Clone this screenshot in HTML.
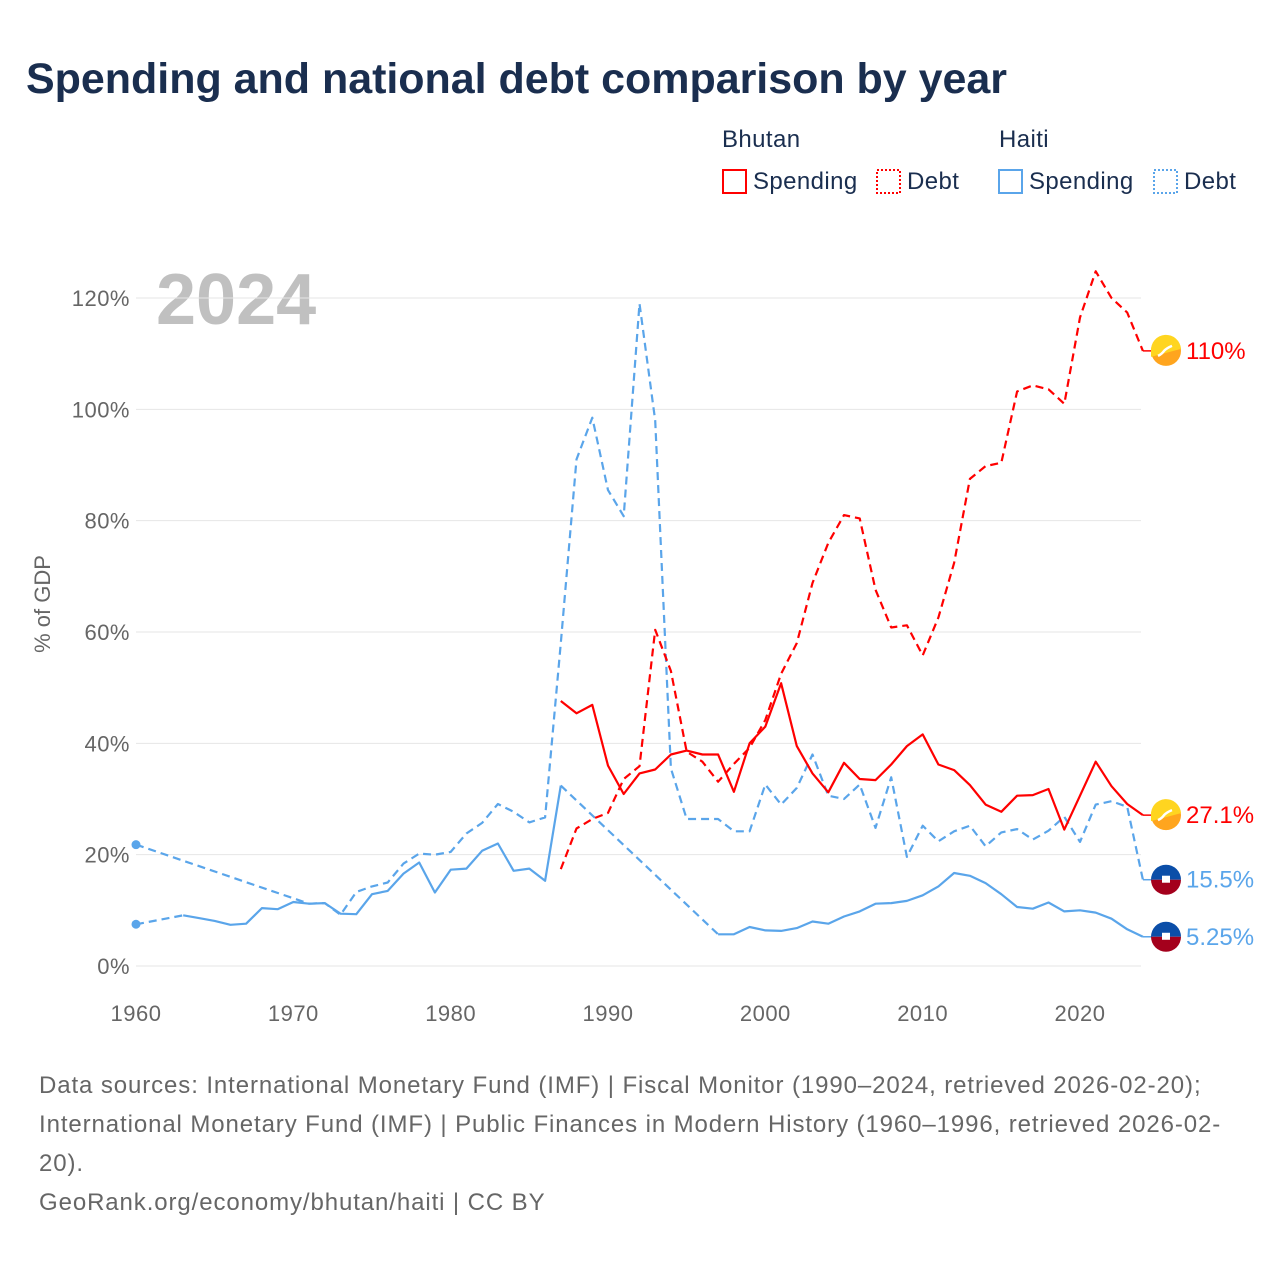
<!DOCTYPE html>
<html><head><meta charset="utf-8"><style>
body{margin:0;background:#fff;font-family:"Liberation Sans",sans-serif;}
svg text{font-family:"Liberation Sans",sans-serif;}
</style></head><body>
<svg id="c" width="1280" height="1280" xmlns="http://www.w3.org/2000/svg">
<text x="26" y="93" font-size="43" font-weight="bold" fill="#1a2e4f" textLength="981">Spending and national debt comparison by year</text>
<g font-size="24" fill="#1a2e4f" letter-spacing="0.4">
<text x="722" y="147" fill="#1a2e4f">Bhutan</text>
<text x="999" y="147" fill="#1a2e4f">Haiti</text>
<g><rect x="723" y="170" width="23" height="23" fill="none" stroke="#f00" stroke-width="2"/><text x="753" y="189" fill="#1a2e4f">Spending</text></g>
<g><rect x="877" y="170" width="23" height="23" fill="none" stroke="#f00" stroke-width="2" stroke-dasharray="2 2"/><text x="907" y="189" fill="#1a2e4f">Debt</text></g>
<g><rect x="999" y="170" width="23" height="23" fill="none" stroke="#5aa5ea" stroke-width="2"/><text x="1029" y="189" fill="#1a2e4f">Spending</text></g>
<g><rect x="1154" y="170" width="23" height="23" fill="none" stroke="#5aa5ea" stroke-width="2" stroke-dasharray="2 2"/><text x="1184" y="189" fill="#1a2e4f">Debt</text></g>
</g>
<text x="156" y="324" font-size="72" font-weight="bold" fill="#c0c0c0">2024</text>
<text transform="translate(50,604) rotate(-90)" text-anchor="middle" font-size="22" fill="#666">% of GDP</text>
<g id="grid"></g><g id="series"></g><g id="ends"></g>
<g font-size="24" fill="#666" letter-spacing="0.9">
<text x="39" y="1093" fill="#666">Data sources: International Monetary Fund (IMF) | Fiscal Monitor (1990–2024, retrieved 2026-02-20);</text>
<text x="39" y="1132" fill="#666">International Monetary Fund (IMF) | Public Finances in Modern History (1960–1996, retrieved 2026-02-</text>
<text x="39" y="1171" fill="#666">20).</text>
<text x="39" y="1210" fill="#666">GeoRank.org/economy/bhutan/haiti | CC BY</text>
</g>
</svg>
<script>
const yTicks=[0,20,40,60,80,100,120];
const xTicks=[1960,1970,1980,1990,2000,2010,2020];
const haitiSpendYears=[1960,1963,1964,1965,1966,1967,1968,1969,1970,1971,1972,1973,1974,1975,1976,1977,1978,1979,1980,1981,1982,1983,1984,1985,1986,1987,1997,1998,1999,2000,2001,2002,2003,2004,2005,2006,2007,2008,2009,2010,2011,2012,2013,2014,2015,2016,2017,2018,2019,2020,2021,2022,2023,2024];
const haitiSpend=[7.5,9.1,8.6,8.1,7.4,7.6,10.4,10.2,11.5,11.2,11.3,9.4,9.3,12.9,13.5,16.6,18.6,13.2,17.3,17.5,20.7,22,17.1,17.5,15.3,32.4,5.7,5.7,7.0,6.4,6.3,6.8,8.0,7.6,8.9,9.8,11.2,11.3,11.7,12.7,14.3,16.7,16.2,14.9,12.9,10.6,10.3,11.4,9.8,10.0,9.6,8.5,6.6,5.25];
const haitiDebtYears=[1960,1971,1972,1973,1974,1975,1976,1977,1978,1979,1980,1981,1982,1983,1984,1985,1986,1987,1988,1989,1990,1991,1992,1993,1994,1995,1996,1997,1998,1999,2000,2001,2002,2003,2004,2005,2006,2007,2008,2009,2010,2011,2012,2013,2014,2015,2016,2017,2018,2019,2020,2021,2022,2023,2024];
const haitiDebt=[21.8,11.2,11.3,9.2,13.3,14.3,15,18.4,20.2,20,20.5,23.8,25.7,29.1,27.7,25.8,26.7,58,91,98.5,85.5,80.8,119,98,35.5,26.4,26.4,26.4,24.2,24.2,32.6,29,32,38,30.6,30,32.6,24.8,33.9,19.6,25.2,22.4,24.2,25.2,21.5,24,24.6,22.7,24.3,26.8,22.3,29,29.6,28.6,15.5];
const bhutanYears=[1987,1988,1989,1990,1991,1992,1993,1994,1995,1996,1997,1998,1999,2000,2001,2002,2003,2004,2005,2006,2007,2008,2009,2010,2011,2012,2013,2014,2015,2016,2017,2018,2019,2020,2021,2022,2023,2024];
const bhutanSpend=[47.6,45.4,46.9,36,30.9,34.6,35.3,38,38.7,38,38,31.3,40,43,50.8,39.5,34.6,31.2,36.5,33.6,33.4,36.2,39.5,41.6,36.2,35.2,32.5,29,27.7,30.6,30.7,31.8,24.5,30.6,36.7,32.3,29.1,27.1];
const bhutanDebt=[17.4,24.7,26.4,27.5,33.6,35.9,60.4,53,38.5,36.7,33.1,36.3,39.2,44.2,52.5,58,68.8,76,81,80.4,67.6,60.8,61.2,55.8,62.6,72.4,87.5,89.8,90.4,103.2,104.3,103.6,101,116.5,124.8,120,117.4,110.5];
const endLabels=["110%","27.1%","15.5%","5.25%"];

const NS="http://www.w3.org/2000/svg";
const X=y=>136+(y-1960)*(1080-136)/60;
const Y=v=>966-v*(966-298)/120;
function mk(t,a,p){const e=document.createElementNS(NS,t);for(const k in a)e.setAttribute(k,a[k]);p.appendChild(e);return e;}
const grid=document.getElementById('grid');
yTicks.forEach(t=>{
 const l=mk('line',{x1:136,x2:1141,y1:Y(t),y2:Y(t),stroke:'#e6e6e6','stroke-width':1},grid);
 
 
 const tx=mk('text',{x:130,y:Y(t)+8,'text-anchor':'end','font-size':22,fill:'#666','letter-spacing':0.5},grid);tx.textContent=t+'%';
 
 
});
xTicks.forEach(t=>{
 const tx=mk('text',{x:X(t),y:1021,'text-anchor':'middle','font-size':22,fill:'#666','letter-spacing':0.5},grid);tx.textContent=t;
 
 
});
const S=document.getElementById('series');
function path(years,vals){return years.map((y,i)=>(i?'L':'M')+X(y).toFixed(1)+','+Y(vals[i]).toFixed(1)).join('');}
function line(years,vals,color,dashed,name){
 let seg=[[0]];
 for(let i=1;i<years.length;i++){
   if(years[i]-years[i-1]>1){
     const g=mk('path',{d:path([years[i-1],years[i]],[vals[i-1],vals[i]]),fill:'none',stroke:color,'stroke-width':2.2,'stroke-dasharray':'8 5'},S);
     
     
     seg.push([i]);
   } else seg[seg.length-1].push(i);
 }
 seg.forEach(s=>{
   if(s.length<2){const c=mk('circle',{cx:X(years[s[0]]),cy:Y(vals[s[0]]),r:4.5,fill:color},S);
     
     return;}
   const p=mk('path',{d:path(s.map(i=>years[i]),s.map(i=>vals[i])),fill:'none',stroke:color,'stroke-width':2.2,'stroke-linejoin':'round'},S);
   if(dashed)p.setAttribute('stroke-dasharray','8 5');
   
   
 });
}
line(haitiSpendYears,haitiSpend,'#5aa5ea',false,'haiti-spending-line');
line(haitiDebtYears,haitiDebt,'#5aa5ea',true,'haiti-debt-line');
line(bhutanYears,bhutanSpend,'#ff0000',false,'bhutan-spending-line');
line(bhutanYears,bhutanDebt,'#ff0000',true,'bhutan-debt-line');
const E=document.getElementById('ends');
const ends=[[bhutanDebt[bhutanDebt.length-1],'#ff0000','bhutan'],[bhutanSpend[bhutanSpend.length-1],'#ff0000','bhutan'],[haitiDebt[haitiDebt.length-1],'#5aa5ea','haiti'],[haitiSpend[haitiSpend.length-1],'#5aa5ea','haiti']];
ends.forEach((e,i)=>{
 const y=Y(e[0]);
 mk('line',{x1:X(2024),x2:1152,y1:y,y2:y,stroke:e[1],'stroke-width':1.5},E);
 const g=mk('g',{},E);
 
 
 if(e[2]==='bhutan'){
  mk('circle',{cx:1166,cy:y,r:15,fill:'#ffa51e'},g);
  mk('path',{d:`M1151,${y} A15,15 0 0 1 1181,${y-2} L1151,${y+6}Z`,fill:'#ffd520'},g);
  mk('path',{d:`M1158,${y+5} q4,-2 6,-5 q3,-3 8,-5`,fill:'none',stroke:'#fff','stroke-width':2.5},g);
 } else {
  mk('path',{d:`M1151,${y} A15,15 0 0 1 1181,${y}Z`,fill:'#0b4ea8'},g);
  mk('path',{d:`M1151,${y} A15,15 0 0 0 1181,${y}Z`,fill:'#a4001c'},g);
  mk('rect',{x:1162,y:y-4,width:8,height:7,fill:'#fff'},g);
 }
 const t=mk('text',{x:1186,y:y+8,'font-size':24,fill:e[1]},E);t.textContent=endLabels[i];
 
 
});
</script>
</body></html>
